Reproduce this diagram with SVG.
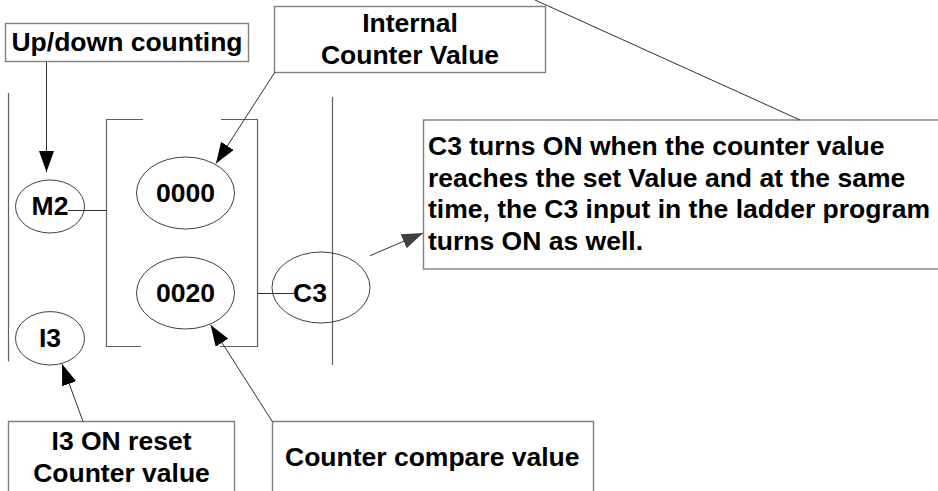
<svg xmlns="http://www.w3.org/2000/svg" width="938" height="491" viewBox="0 0 938 491">
<style>
text{font-family:"Liberation Sans",Arial,sans-serif;font-weight:bold;font-size:26.5px;fill:#000}
.m{text-anchor:middle}
.b{fill:#fff;stroke:#808080;stroke-width:1.4}
.e{fill:none;stroke:#404040;stroke-width:1}
.l{fill:none;stroke:#303030;stroke-width:1}
.g{fill:none;stroke:#606060;stroke-width:1.2}
</style>
<defs><marker id="a" markerUnits="userSpaceOnUse" markerWidth="22" markerHeight="16" refX="21" refY="7.5" orient="auto"><path d="M0 0L21 7.5L0 15Z" fill="#000"/></marker>
<marker id="a2" markerUnits="userSpaceOnUse" markerWidth="22" markerHeight="16" refX="21" refY="7.5" orient="auto"><path d="M0 0L21 7.5L0 15Z" fill="#404040"/></marker></defs>
<rect width="938" height="491" fill="#fff"/>
<g id="rails">
<path class="g" d="M8.5 93V361.5M332.5 97V365"/>
<path class="g" d="M143 119.5H106.5V346.5H141M221 119.5H257.5V346.5H220"/>
</g>
<g id="box-updown"><rect class="b" x="5.5" y="23.5" width="243" height="38"/><text class="m" x="127" y="51">Up/down counting</text></g>
<g id="box-internal"><rect class="b" x="274.5" y="6.5" width="271" height="66"/><text class="m" x="410" y="32">Internal</text><text class="m" x="410" y="64">Counter Value</text></g>
<g id="box-c3"><rect class="b" x="423.5" y="120" width="520" height="149"/>
<text x="428" y="155">C3 turns ON when the counter value</text><text x="428" y="186.7">reaches the set Value and at the same</text><text x="428" y="218.3">time, the C3 input in the ladder program</text><text x="428" y="250">turns ON as well.</text></g>
<g id="box-i3"><path class="b" d="M8.5 492V421.5H234.5V492"/><text class="m" x="121.5" y="450">I3 ON reset</text><text class="m" x="121.5" y="481.5">Counter value</text></g>
<g id="box-compare"><path class="b" d="M272.5 492V421.5H593.5V492"/><text x="285" y="465.5">Counter compare value</text></g>
<g id="node-m2"><ellipse class="e" cx="50" cy="206.5" rx="34.5" ry="26.5"/><text class="m" x="50" y="215">M2</text></g>
<g id="node-0000"><ellipse class="e" cx="185.5" cy="193" rx="49" ry="36"/><text class="m" x="185.5" y="202">0000</text></g>
<g id="node-0020"><ellipse class="e" cx="185.5" cy="293" rx="49" ry="36"/><text class="m" x="185.5" y="302">0020</text></g>
<g id="node-c3"><ellipse class="e" cx="321" cy="287.5" rx="49" ry="35.5"/><text class="m" x="310" y="302">C3</text></g>
<g id="node-i3"><ellipse class="e" cx="50" cy="338.3" rx="34.5" ry="26.7"/><text class="m" x="50" y="347">I3</text></g>
<g id="connectors">
<path class="l" d="M68 210.5H106.5M257.5 293.5H294"/>
<path class="l" d="M46.5 62V172" marker-end="url(#a)"/>
<path class="l" d="M274.7 72.5L216 163.5" marker-end="url(#a)"/>
<path class="l" d="M272.3 421.5L210.7 325" marker-end="url(#a)"/>
<path class="l" d="M83 421.5L62 364" marker-end="url(#a)"/>
<path class="l" d="M370 255.7L423 233" marker-end="url(#a2)"/>
<path class="l" d="M535 0L800 120"/>
</g>
</svg>
